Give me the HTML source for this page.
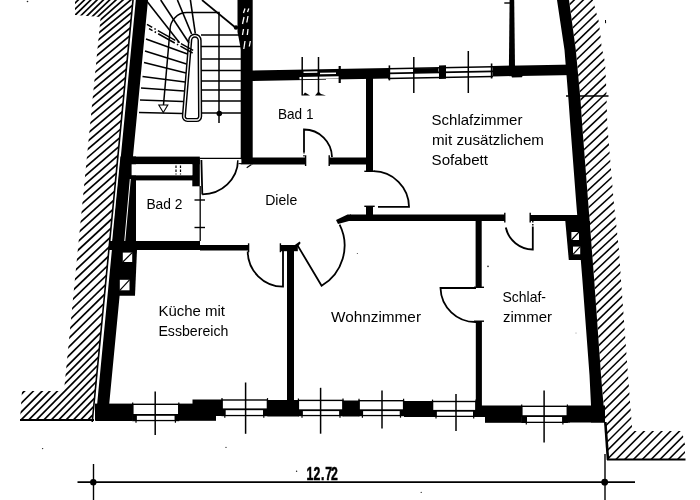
<!DOCTYPE html>
<html><head><meta charset="utf-8"><title>Grundriss</title>
<style>html,body{margin:0;padding:0;background:#fff;overflow:hidden}svg{display:block;filter:grayscale(1) blur(0.35px)}</style>
</head><body>
<svg width="700" height="500" viewBox="0 0 700 500">
<rect width="700" height="500" fill="#fff"/>
<polygon points="135.80,0.00 148.00,0.00 109.22,404.00 132.50,404.00 132.50,421.00 95.54,421.00" fill="#000" />
<line x1="133.00" y1="0.00" x2="92.24" y2="422.00" stroke="#000" stroke-width="1.60" />
<clipPath id="hl"><polygon points="75.00,0.00 133.00,0.00 92.44,420.00 20.00,420.00 22.00,391.00 63.98,391.00 100.63,17.00 75.00,15.00"/></clipPath>
<g clip-path="url(#hl)" stroke="#000" stroke-width="1.70">
<line x1="5.66" y1="46.40" x2="245.66" y2="-186.40"/>
<line x1="5.01" y1="53.00" x2="245.01" y2="-179.80"/>
<line x1="4.37" y1="59.60" x2="244.37" y2="-173.20"/>
<line x1="3.72" y1="66.22" x2="243.72" y2="-166.58"/>
<line x1="3.07" y1="72.87" x2="243.07" y2="-159.93"/>
<line x1="2.41" y1="79.56" x2="242.41" y2="-153.24"/>
<line x1="1.75" y1="86.28" x2="241.75" y2="-146.52"/>
<line x1="1.09" y1="93.04" x2="241.09" y2="-139.76"/>
<line x1="0.42" y1="99.84" x2="240.42" y2="-132.96"/>
<line x1="-0.25" y1="105.16" x2="239.75" y2="-124.62"/>
<line x1="-0.92" y1="107.45" x2="239.08" y2="-113.17"/>
<line x1="-1.60" y1="109.75" x2="238.40" y2="-101.67"/>
<line x1="-2.28" y1="112.06" x2="237.72" y2="-90.10"/>
<line x1="-2.96" y1="116.47" x2="237.04" y2="-80.55"/>
<line x1="-3.66" y1="123.87" x2="236.34" y2="-73.65"/>
<line x1="-4.40" y1="131.67" x2="235.60" y2="-66.39"/>
<line x1="-5.17" y1="139.87" x2="234.83" y2="-58.75"/>
<line x1="-5.99" y1="148.46" x2="234.01" y2="-50.74"/>
<line x1="-6.81" y1="157.10" x2="233.19" y2="-42.70"/>
<line x1="-7.63" y1="165.77" x2="232.37" y2="-34.62"/>
<line x1="-8.45" y1="174.49" x2="231.55" y2="-26.51"/>
<line x1="-9.28" y1="183.24" x2="230.72" y2="-18.36"/>
<line x1="-10.11" y1="192.03" x2="229.89" y2="-10.17"/>
<line x1="-10.95" y1="200.86" x2="229.05" y2="-1.95"/>
<line x1="-11.79" y1="209.73" x2="228.21" y2="6.31"/>
<line x1="-12.63" y1="218.64" x2="227.37" y2="14.61"/>
<line x1="-13.48" y1="227.58" x2="226.52" y2="22.94"/>
<line x1="-14.33" y1="236.57" x2="225.67" y2="31.31"/>
<line x1="-15.18" y1="245.61" x2="224.82" y2="39.73"/>
<line x1="-16.04" y1="254.81" x2="223.96" y2="48.13"/>
<line x1="-16.91" y1="264.52" x2="223.09" y2="56.14"/>
<line x1="-17.79" y1="274.30" x2="222.21" y2="64.21"/>
<line x1="-18.67" y1="284.16" x2="221.33" y2="72.34"/>
<line x1="-19.56" y1="294.09" x2="220.44" y2="80.53"/>
<line x1="-20.45" y1="304.10" x2="219.55" y2="88.78"/>
<line x1="-21.35" y1="314.18" x2="218.65" y2="97.10"/>
<line x1="-22.26" y1="324.34" x2="217.74" y2="105.48"/>
<line x1="-23.18" y1="334.57" x2="216.82" y2="113.92"/>
<line x1="-24.10" y1="344.88" x2="215.90" y2="122.42"/>
<line x1="-25.03" y1="355.27" x2="214.97" y2="130.99"/>
<line x1="-25.96" y1="365.73" x2="214.04" y2="139.62"/>
<line x1="-26.90" y1="376.25" x2="213.10" y2="148.30"/>
<line x1="-27.84" y1="386.78" x2="212.16" y2="156.98"/>
<line x1="-28.78" y1="397.30" x2="211.22" y2="165.65"/>
<line x1="-29.73" y1="407.82" x2="210.27" y2="174.33"/>
<line x1="-30.67" y1="418.31" x2="209.33" y2="183.04"/>
<line x1="-31.61" y1="428.39" x2="208.39" y2="192.16"/>
<line x1="-32.55" y1="438.47" x2="207.45" y2="201.28"/>
<line x1="-33.49" y1="448.55" x2="206.51" y2="210.40"/>
<line x1="-34.43" y1="458.63" x2="205.57" y2="219.52"/>
<line x1="-35.37" y1="468.71" x2="204.63" y2="228.64"/>
<line x1="-36.18" y1="477.42" x2="203.82" y2="236.53"/>
<line x1="-37.00" y1="486.14" x2="203.00" y2="244.41"/>
<line x1="-37.81" y1="494.85" x2="202.19" y2="252.30"/>
<line x1="-38.62" y1="503.57" x2="201.38" y2="260.18"/>
<line x1="-39.44" y1="512.28" x2="200.56" y2="268.07"/>
<line x1="-40.25" y1="521.00" x2="199.75" y2="275.95"/>
<line x1="-41.06" y1="529.71" x2="198.94" y2="283.84"/>
<line x1="-41.88" y1="538.43" x2="198.12" y2="291.72"/>
<line x1="-42.69" y1="546.98" x2="197.31" y2="299.78"/>
<line x1="-43.50" y1="555.28" x2="196.50" y2="308.08"/>
<line x1="-44.32" y1="563.58" x2="195.68" y2="316.38"/>
</g>
<line x1="20.00" y1="420.00" x2="94.00" y2="420.00" stroke="#000" stroke-width="2.00" />
<polygon points="557.00,0.00 564.50,50.00 568.50,100.00 570.30,125.00 576.00,200.00 582.40,280.00 589.50,375.00 591.00,405.50 591.00,422.50 605.00,422.50 601.00,375.00 594.20,280.00 588.00,200.00 582.20,125.00 580.50,100.00 575.80,50.00 569.00,0.00" fill="#000" />
<path d="M605.3,422 L608,460" stroke="#000" stroke-width="2.60" fill="none" />
<clipPath id="hr"><polygon points="569.00,0.00 593.00,0.00 596.40,13.00 598.50,20.00 600.80,38.00 601.60,47.00 605.00,62.00 606.30,88.00 607.30,125.00 613.60,200.00 619.00,250.00 621.00,280.00 628.00,375.00 632.30,431.00 682.00,431.00 685.00,445.00 685.00,460.00 607.50,460.00 605.30,422.00 601.00,375.00 594.20,280.00 588.00,200.00 582.20,125.00 580.50,100.00 575.80,50.00"/></clipPath>
<g clip-path="url(#hr)" stroke="#000" stroke-width="1.55">
<line x1="560.00" y1="5.00" x2="700.00" y2="-130.80"/>
<line x1="560.00" y1="13.80" x2="700.00" y2="-122.00"/>
<line x1="560.00" y1="22.60" x2="700.00" y2="-113.20"/>
<line x1="560.00" y1="31.40" x2="700.00" y2="-104.40"/>
<line x1="560.00" y1="40.20" x2="700.00" y2="-95.54"/>
<line x1="560.00" y1="49.00" x2="700.00" y2="-86.49"/>
<line x1="560.00" y1="57.80" x2="700.00" y2="-77.45"/>
<line x1="560.00" y1="66.60" x2="700.00" y2="-68.40"/>
<line x1="560.00" y1="75.40" x2="700.00" y2="-59.35"/>
<line x1="560.00" y1="84.20" x2="700.00" y2="-50.31"/>
<line x1="560.00" y1="93.00" x2="700.00" y2="-41.26"/>
<line x1="560.00" y1="101.80" x2="700.00" y2="-32.21"/>
<line x1="560.00" y1="110.60" x2="700.00" y2="-23.17"/>
<line x1="560.00" y1="119.40" x2="700.00" y2="-14.12"/>
<line x1="560.00" y1="128.20" x2="700.00" y2="-5.07"/>
<line x1="560.00" y1="137.00" x2="700.00" y2="3.97"/>
<line x1="560.00" y1="145.80" x2="700.00" y2="13.16"/>
<line x1="560.00" y1="154.60" x2="700.00" y2="22.37"/>
<line x1="560.00" y1="163.40" x2="700.00" y2="31.59"/>
<line x1="560.00" y1="172.20" x2="700.00" y2="40.80"/>
<line x1="560.00" y1="181.00" x2="700.00" y2="50.01"/>
<line x1="560.00" y1="189.80" x2="700.00" y2="59.22"/>
<line x1="560.00" y1="198.60" x2="700.00" y2="68.43"/>
<line x1="560.00" y1="207.40" x2="700.00" y2="77.64"/>
<line x1="560.00" y1="216.20" x2="700.00" y2="86.85"/>
<line x1="560.00" y1="225.00" x2="700.00" y2="96.06"/>
<line x1="560.00" y1="233.80" x2="700.00" y2="105.27"/>
<line x1="560.00" y1="242.60" x2="700.00" y2="114.48"/>
<line x1="560.00" y1="251.40" x2="700.00" y2="123.69"/>
<line x1="560.00" y1="260.20" x2="700.00" y2="132.57"/>
<line x1="560.00" y1="269.00" x2="700.00" y2="140.45"/>
<line x1="560.00" y1="277.80" x2="700.00" y2="148.32"/>
<line x1="560.00" y1="286.60" x2="700.00" y2="156.20"/>
<line x1="560.00" y1="295.40" x2="700.00" y2="164.07"/>
<line x1="560.00" y1="304.20" x2="700.00" y2="171.95"/>
<line x1="560.00" y1="313.00" x2="700.00" y2="179.83"/>
<line x1="560.00" y1="321.80" x2="700.00" y2="187.70"/>
<line x1="560.00" y1="330.60" x2="700.00" y2="195.58"/>
<line x1="560.00" y1="339.40" x2="700.00" y2="203.56"/>
<line x1="560.00" y1="348.20" x2="700.00" y2="212.09"/>
<line x1="560.00" y1="357.00" x2="700.00" y2="220.63"/>
<line x1="560.00" y1="365.80" x2="700.00" y2="229.17"/>
<line x1="560.00" y1="374.60" x2="700.00" y2="237.70"/>
<line x1="560.00" y1="383.40" x2="700.00" y2="246.24"/>
<line x1="560.00" y1="392.20" x2="700.00" y2="254.77"/>
<line x1="560.00" y1="401.00" x2="700.00" y2="263.31"/>
<line x1="560.00" y1="409.80" x2="700.00" y2="271.85"/>
<line x1="560.00" y1="418.60" x2="700.00" y2="280.38"/>
<line x1="560.00" y1="427.40" x2="700.00" y2="288.92"/>
<line x1="560.00" y1="436.20" x2="700.00" y2="297.45"/>
<line x1="560.00" y1="445.00" x2="700.00" y2="305.99"/>
<line x1="560.00" y1="453.80" x2="700.00" y2="314.53"/>
<line x1="560.00" y1="462.60" x2="700.00" y2="323.06"/>
<line x1="560.00" y1="471.40" x2="700.00" y2="331.60"/>
<line x1="560.00" y1="480.20" x2="700.00" y2="340.20"/>
<line x1="560.00" y1="489.00" x2="700.00" y2="349.00"/>
<line x1="560.00" y1="497.80" x2="700.00" y2="357.80"/>
<line x1="560.00" y1="506.60" x2="700.00" y2="366.60"/>
<line x1="560.00" y1="515.40" x2="700.00" y2="375.40"/>
<line x1="560.00" y1="524.20" x2="700.00" y2="384.20"/>
<line x1="560.00" y1="533.00" x2="700.00" y2="393.00"/>
<line x1="560.00" y1="541.80" x2="700.00" y2="401.80"/>
<line x1="560.00" y1="550.60" x2="700.00" y2="410.60"/>
<line x1="560.00" y1="559.40" x2="700.00" y2="419.40"/>
<line x1="560.00" y1="568.20" x2="700.00" y2="428.20"/>
<line x1="560.00" y1="577.00" x2="700.00" y2="437.00"/>
<line x1="560.00" y1="585.80" x2="700.00" y2="445.80"/>
<line x1="560.00" y1="594.60" x2="700.00" y2="454.60"/>
<line x1="560.00" y1="603.40" x2="700.00" y2="463.40"/>
<line x1="560.00" y1="612.20" x2="700.00" y2="472.20"/>
<line x1="560.00" y1="621.00" x2="700.00" y2="481.00"/>
<line x1="560.00" y1="629.80" x2="700.00" y2="489.80"/>
<line x1="560.00" y1="638.60" x2="700.00" y2="498.60"/>
<line x1="560.00" y1="647.40" x2="700.00" y2="507.40"/>
<line x1="560.00" y1="656.20" x2="700.00" y2="516.20"/>
<line x1="560.00" y1="665.00" x2="700.00" y2="525.00"/>
<line x1="560.00" y1="673.80" x2="700.00" y2="533.80"/>
<line x1="560.00" y1="682.60" x2="700.00" y2="542.60"/>
<line x1="560.00" y1="691.40" x2="700.00" y2="551.40"/>
</g>
<line x1="607.00" y1="459.50" x2="685.50" y2="459.50" stroke="#000" stroke-width="2.20" />
<line x1="566.00" y1="96.00" x2="608.50" y2="96.00" stroke="#000" stroke-width="1.70" />
<rect x="240.70" y="0.00" width="12.00" height="164.40" fill="#000"/>
<polygon points="237.50,0.00 241.00,0.00 241.00,50.00 237.50,32.00" fill="#000" />
<line x1="243.50" y1="13.00" x2="245.00" y2="8.50" stroke="#000" stroke-width="1.30" style="stroke:#fff"/>
<line x1="247.50" y1="12.00" x2="248.80" y2="8.50" stroke="#000" stroke-width="1.30" style="stroke:#fff"/>
<line x1="242.50" y1="24.00" x2="244.00" y2="17.00" stroke="#000" stroke-width="1.30" style="stroke:#fff"/>
<line x1="246.80" y1="22.50" x2="248.00" y2="16.00" stroke="#000" stroke-width="1.30" style="stroke:#fff"/>
<line x1="242.50" y1="35.00" x2="243.50" y2="29.00" stroke="#000" stroke-width="1.30" style="stroke:#fff"/>
<line x1="247.30" y1="35.00" x2="248.00" y2="29.00" stroke="#000" stroke-width="1.30" style="stroke:#fff"/>
<line x1="243.80" y1="49.00" x2="245.00" y2="41.00" stroke="#000" stroke-width="1.30" style="stroke:#fff"/>
<line x1="249.30" y1="46.50" x2="250.30" y2="41.00" stroke="#000" stroke-width="1.30" style="stroke:#fff"/>
<polygon points="252.00,70.50 389.00,67.91 389.00,78.41 252.00,81.00" fill="#000" />
<polygon points="492.50,65.95 575.00,64.40 575.00,74.90 492.50,76.45" fill="#000" />
<line x1="303.50" y1="72.23" x2="317.50" y2="71.96" stroke="#000" stroke-width="1.60" style="stroke:#fff"/>
<line x1="320.00" y1="73.61" x2="336.00" y2="73.31" stroke="#000" stroke-width="1.50" style="stroke:#fff"/>
<line x1="299.50" y1="78.20" x2="339.00" y2="77.46" stroke="#000" stroke-width="2.20" style="stroke:#fff"/>
<line x1="326.00" y1="79.70" x2="339.00" y2="79.46" stroke="#000" stroke-width="1.50" style="stroke:#fff"/>
<line x1="302.20" y1="57.00" x2="302.20" y2="95.50" stroke="#000" stroke-width="1.50" />
<line x1="318.50" y1="57.00" x2="318.50" y2="94.00" stroke="#000" stroke-width="1.50" />
<line x1="339.70" y1="66.00" x2="339.70" y2="83.00" stroke="#000" stroke-width="2.20" />
<polygon points="302.50,95.50 305.00,92.50 310.00,95.50" fill="#000" />
<polygon points="315.00,95.50 318.50,91.50 321.00,94.00 326.00,95.50" fill="#000" />
<line x1="388.00" y1="68.63" x2="493.00" y2="66.65" stroke="#000" stroke-width="1.50" />
<line x1="388.00" y1="73.33" x2="493.00" y2="71.35" stroke="#000" stroke-width="1.70" />
<line x1="388.00" y1="78.53" x2="493.00" y2="76.55" stroke="#000" stroke-width="1.50" />
<line x1="414.00" y1="70.64" x2="438.50" y2="70.18" stroke="#000" stroke-width="4.40" />
<line x1="389.40" y1="65.41" x2="389.40" y2="80.41" stroke="#000" stroke-width="1.60" />
<line x1="491.60" y1="63.48" x2="491.60" y2="78.48" stroke="#000" stroke-width="1.60" />
<polygon points="439.00,65.47 446.00,65.33 446.00,78.83 439.00,78.97" fill="#000" />
<line x1="413.80" y1="57.00" x2="413.80" y2="93.00" stroke="#000" stroke-width="1.50" />
<line x1="468.30" y1="51.00" x2="468.30" y2="93.00" stroke="#000" stroke-width="1.50" />
<polygon points="509.60,0.00 514.20,0.00 515.00,67.00 508.90,67.00" fill="#000" />
<line x1="504.30" y1="3.00" x2="510.00" y2="3.00" stroke="#000" stroke-width="1.40" />
<polygon points="511.00,75.00 523.00,74.70 522.00,77.30 512.00,77.60" fill="#000" />
<rect x="366.00" y="78.00" width="7.00" height="93.00" fill="#000"/>
<rect x="366.00" y="206.00" width="7.00" height="10.00" fill="#000"/>
<rect x="252.00" y="157.50" width="54.00" height="7.00" fill="#000"/>
<rect x="329.00" y="157.50" width="44.00" height="7.00" fill="#000"/>
<rect x="131.00" y="156.60" width="68.80" height="7.70" fill="#000"/>
<rect x="192.30" y="157.50" width="7.50" height="28.80" fill="#000"/>
<rect x="130.00" y="175.20" width="63.00" height="5.20" fill="#000"/>
<polygon points="120.45,156.60 136.00,156.60 136.00,250.00 111.30,250.00" fill="#000" />
<line x1="130.30" y1="179.00" x2="124.60" y2="243.00" stroke="#000" stroke-width="1.00" style="stroke:#fff"/>
<rect x="131.60" y="164.30" width="60.70" height="10.90" fill="#fff"/>
<line x1="176.00" y1="165.50" x2="176.00" y2="174.50" stroke="#000" stroke-width="1.20" stroke-dasharray="2.5 1.5"/>
<line x1="180.50" y1="165.50" x2="180.50" y2="174.50" stroke="#000" stroke-width="1.20" stroke-dasharray="2.5 1.5"/>
<rect x="109.00" y="241.00" width="91.00" height="9.00" fill="#000"/>
<rect x="200.00" y="245.00" width="49.00" height="5.50" fill="#000"/>
<polygon points="113.30,250.00 137.00,250.00 135.00,295.80 108.79,295.80" fill="#000" />
<rect x="122.80" y="252.60" width="9.40" height="9.40" fill="#fff"/>
<line x1="122.80" y1="262.00" x2="132.20" y2="252.60" stroke="#000" stroke-width="1.20" />
<rect x="119.80" y="279.80" width="9.70" height="10.50" fill="#fff"/>
<line x1="119.80" y1="290.30" x2="129.50" y2="279.80" stroke="#000" stroke-width="1.20" />
<rect x="287.00" y="246.00" width="7.00" height="155.00" fill="#000"/>
<rect x="280.00" y="245.00" width="17.80" height="6.20" fill="#000"/>
<polygon points="294.50,245.20 299.60,241.60 300.60,243.00 297.80,247.00" fill="#000" />
<rect x="350.00" y="214.50" width="155.00" height="6.50" fill="#000"/>
<polygon points="347.50,214.50 336.00,220.00 338.00,224.00 349.00,221.00 351.00,221.00 351.00,214.50" fill="#000" />
<rect x="530.00" y="215.00" width="50.00" height="6.00" fill="#000"/>
<rect x="475.60" y="221.00" width="6.10" height="66.50" fill="#000"/>
<rect x="475.80" y="321.00" width="6.10" height="85.00" fill="#000"/>
<polygon points="565.30,221.00 590.00,221.00 590.00,260.00 568.80,260.00" fill="#000" />
<rect x="571.40" y="232.00" width="7.60" height="8.00" fill="#fff"/>
<line x1="571.40" y1="240.00" x2="579.00" y2="232.00" stroke="#000" stroke-width="1.20" />
<rect x="573.00" y="246.60" width="7.20" height="7.70" fill="#fff"/>
<line x1="573.00" y1="254.30" x2="580.20" y2="246.60" stroke="#000" stroke-width="1.20" />
<rect x="95.00" y="403.60" width="37.70" height="17.00" fill="#000"/>
<rect x="178.80" y="403.60" width="37.20" height="17.20" fill="#000"/>
<rect x="192.50" y="399.50" width="30.00" height="16.50" fill="#000"/>
<rect x="267.50" y="400.00" width="31.50" height="16.50" fill="#000"/>
<rect x="342.50" y="400.50" width="17.00" height="16.00" fill="#000"/>
<rect x="404.00" y="401.00" width="28.50" height="16.00" fill="#000"/>
<rect x="476.00" y="405.50" width="45.70" height="11.50" fill="#000"/>
<rect x="485.00" y="416.00" width="36.70" height="6.80" fill="#000"/>
<rect x="482.00" y="401.00" width="0.00" height="4.00" fill="#000"/>
<rect x="567.50" y="405.50" width="37.50" height="17.00" fill="#000"/>
<rect x="563.00" y="415.00" width="7.00" height="7.50" fill="#000"/>
<rect x="132.20" y="403.60" width="47.10" height="17.60" fill="#000"/>
<rect x="133.40" y="405.00" width="44.70" height="9.00" fill="#fff"/>
<rect x="136.70" y="415.80" width="38.00" height="4.10" fill="#fff"/>
<line x1="132.70" y1="402.40" x2="132.70" y2="414.70" stroke="#000" stroke-width="1.20" />
<line x1="178.80" y1="402.40" x2="178.80" y2="414.70" stroke="#000" stroke-width="1.20" />
<line x1="136.00" y1="414.70" x2="136.00" y2="422.70" stroke="#000" stroke-width="1.20" />
<line x1="175.40" y1="414.70" x2="175.40" y2="422.70" stroke="#000" stroke-width="1.20" />
<line x1="155.20" y1="391.50" x2="155.20" y2="435.00" stroke="#000" stroke-width="1.50" />
<rect x="221.50" y="399.30" width="46.50" height="16.90" fill="#000"/>
<rect x="222.70" y="400.70" width="44.10" height="7.70" fill="#fff"/>
<rect x="225.50" y="410.20" width="37.60" height="4.70" fill="#fff"/>
<line x1="222.00" y1="398.10" x2="222.00" y2="409.10" stroke="#000" stroke-width="1.20" />
<line x1="267.50" y1="398.10" x2="267.50" y2="409.10" stroke="#000" stroke-width="1.20" />
<line x1="224.80" y1="409.10" x2="224.80" y2="417.70" stroke="#000" stroke-width="1.20" />
<line x1="263.80" y1="409.10" x2="263.80" y2="417.70" stroke="#000" stroke-width="1.20" />
<line x1="245.60" y1="382.50" x2="245.60" y2="433.80" stroke="#000" stroke-width="1.50" />
<rect x="297.90" y="399.70" width="45.60" height="16.50" fill="#000"/>
<rect x="299.10" y="401.10" width="43.20" height="8.20" fill="#fff"/>
<rect x="302.70" y="411.10" width="36.60" height="3.80" fill="#fff"/>
<line x1="298.40" y1="398.50" x2="298.40" y2="410.00" stroke="#000" stroke-width="1.20" />
<line x1="343.00" y1="398.50" x2="343.00" y2="410.00" stroke="#000" stroke-width="1.20" />
<line x1="302.00" y1="410.00" x2="302.00" y2="417.70" stroke="#000" stroke-width="1.20" />
<line x1="340.00" y1="410.00" x2="340.00" y2="417.70" stroke="#000" stroke-width="1.20" />
<line x1="320.60" y1="387.80" x2="320.60" y2="433.70" stroke="#000" stroke-width="1.50" />
<rect x="358.50" y="400.00" width="45.60" height="16.20" fill="#000"/>
<rect x="359.70" y="401.40" width="43.20" height="7.90" fill="#fff"/>
<rect x="363.10" y="411.10" width="36.70" height="3.80" fill="#fff"/>
<line x1="359.00" y1="398.80" x2="359.00" y2="410.00" stroke="#000" stroke-width="1.20" />
<line x1="403.60" y1="398.80" x2="403.60" y2="410.00" stroke="#000" stroke-width="1.20" />
<line x1="362.40" y1="410.00" x2="362.40" y2="417.70" stroke="#000" stroke-width="1.20" />
<line x1="400.50" y1="410.00" x2="400.50" y2="417.70" stroke="#000" stroke-width="1.20" />
<line x1="382.00" y1="390.60" x2="382.00" y2="428.60" stroke="#000" stroke-width="1.50" />
<rect x="432.00" y="400.80" width="44.50" height="16.20" fill="#000"/>
<rect x="433.20" y="402.20" width="42.10" height="7.70" fill="#fff"/>
<rect x="436.70" y="411.70" width="36.30" height="4.00" fill="#fff"/>
<line x1="432.50" y1="399.60" x2="432.50" y2="410.60" stroke="#000" stroke-width="1.20" />
<line x1="476.00" y1="399.60" x2="476.00" y2="410.60" stroke="#000" stroke-width="1.20" />
<line x1="436.00" y1="410.60" x2="436.00" y2="418.50" stroke="#000" stroke-width="1.20" />
<line x1="473.70" y1="410.60" x2="473.70" y2="418.50" stroke="#000" stroke-width="1.20" />
<line x1="456.00" y1="394.00" x2="456.00" y2="431.00" stroke="#000" stroke-width="1.50" />
<rect x="521.20" y="405.60" width="46.70" height="17.40" fill="#000"/>
<rect x="522.40" y="407.00" width="44.30" height="8.20" fill="#fff"/>
<rect x="527.00" y="417.00" width="35.20" height="4.70" fill="#fff"/>
<line x1="521.70" y1="404.40" x2="521.70" y2="415.90" stroke="#000" stroke-width="1.20" />
<line x1="567.40" y1="404.40" x2="567.40" y2="415.90" stroke="#000" stroke-width="1.20" />
<line x1="526.30" y1="415.90" x2="526.30" y2="424.50" stroke="#000" stroke-width="1.20" />
<line x1="562.90" y1="415.90" x2="562.90" y2="424.50" stroke="#000" stroke-width="1.20" />
<line x1="544.10" y1="390.50" x2="544.10" y2="442.50" stroke="#000" stroke-width="1.50" />
<line x1="77.50" y1="482.10" x2="635.00" y2="482.10" stroke="#000" stroke-width="1.60" />
<line x1="93.50" y1="464.00" x2="93.50" y2="500.00" stroke="#000" stroke-width="1.40" />
<line x1="605.00" y1="454.00" x2="605.00" y2="500.00" stroke="#000" stroke-width="1.40" />
<circle cx="93.3" cy="482.2" r="3.2"/>
<circle cx="604.7" cy="482.2" r="3.4"/>
<line x1="305.60" y1="155.30" x2="305.60" y2="166.00" stroke="#000" stroke-width="1.40" />
<line x1="329.20" y1="155.30" x2="329.20" y2="166.00" stroke="#000" stroke-width="1.40" />
<line x1="364.30" y1="171.30" x2="374.70" y2="171.30" stroke="#000" stroke-width="1.40" />
<line x1="364.30" y1="206.30" x2="374.70" y2="206.30" stroke="#000" stroke-width="1.40" />
<line x1="248.60" y1="243.30" x2="248.60" y2="252.20" stroke="#000" stroke-width="1.40" />
<line x1="280.40" y1="243.30" x2="280.40" y2="252.20" stroke="#000" stroke-width="1.40" />
<line x1="504.80" y1="212.80" x2="504.80" y2="222.60" stroke="#000" stroke-width="1.40" />
<line x1="530.20" y1="212.80" x2="530.20" y2="222.60" stroke="#000" stroke-width="1.40" />
<line x1="474.00" y1="287.30" x2="484.00" y2="287.30" stroke="#000" stroke-width="1.40" />
<line x1="474.00" y1="321.20" x2="484.00" y2="321.20" stroke="#000" stroke-width="1.40" />
<path d="M201.4,160 L202.3,194.5 M238,160.3 A36,34.5 0 0 1 202.2,194.3" stroke="#000" stroke-width="1.80" fill="none" />
<line x1="200.00" y1="158.30" x2="241.00" y2="158.30" stroke="#000" stroke-width="1.30" />
<rect x="238.60" y="159.20" width="2.80" height="4.00" fill="#fff"/>
<line x1="238.60" y1="163.60" x2="241.40" y2="163.60" stroke="#000" stroke-width="1.00" />
<line x1="246.70" y1="167.70" x2="251.50" y2="164.60" stroke="#000" stroke-width="1.20" />
<line x1="200.20" y1="186.00" x2="200.20" y2="241.00" stroke="#000" stroke-width="1.30" />
<line x1="194.50" y1="200.00" x2="205.00" y2="200.00" stroke="#000" stroke-width="1.40" />
<line x1="194.50" y1="227.50" x2="205.00" y2="227.50" stroke="#000" stroke-width="1.40" />
<path d="M304,152 L304,129.5 A28,28 0 0 1 332,157" stroke="#000" stroke-width="1.80" fill="none" />
<line x1="304.00" y1="152.00" x2="304.00" y2="157.00" stroke="#000" stroke-width="1.30" stroke-dasharray="1.5 1.5"/>
<path d="M378,206.8 L409,206.8 A36,36 0 0 0 373.5,171.2" stroke="#000" stroke-width="1.80" fill="none" />
<path d="M283,251 L283,286.6 A35.5,35.5 0 0 1 247.7,251.5" stroke="#000" stroke-width="1.80" fill="none" />
<path d="M297.7,245.6 L321.6,285.8 A46.7,46.7 0 0 0 339.6,224.6" stroke="#000" stroke-width="1.80" fill="none" />
<path d="M532.8,226.5 L532.8,249.5 A28,28 0 0 1 505.8,227.5" stroke="#000" stroke-width="1.80" fill="none" />
<line x1="532.80" y1="221.00" x2="532.80" y2="226.00" stroke="#000" stroke-width="1.40" stroke-dasharray="1.5 1.5"/>
<path d="M476,288 L440.5,288 A35,35 0 0 0 476,322" stroke="#000" stroke-width="1.80" fill="none" />
<path d="M190.2,40.5 A4.7,4.9 0 0 1 199.6,40.5 L200.1,116.5 A3.5,3.5 0 0 1 196.6,120 L187.4,120 A3.5,3.5 0 0 1 183.9,116.2 Z" stroke="#000" stroke-width="4.20" fill="#fff" />
<path d="M190.2,40.5 A4.7,4.9 0 0 1 199.6,40.5 L200.1,116.5 A3.5,3.5 0 0 1 196.6,120 L187.4,120 A3.5,3.5 0 0 1 183.9,116.2 Z" stroke="#000" stroke-width="1.30" fill="none" style="stroke:#fff"/>
<line x1="201.00" y1="35.00" x2="241.00" y2="35.00" stroke="#000" stroke-width="1.60" />
<line x1="201.00" y1="46.50" x2="241.00" y2="46.50" stroke="#000" stroke-width="1.60" />
<line x1="201.00" y1="59.00" x2="241.00" y2="59.00" stroke="#000" stroke-width="1.60" />
<line x1="201.00" y1="70.50" x2="241.00" y2="70.50" stroke="#000" stroke-width="1.60" />
<line x1="201.00" y1="81.00" x2="241.00" y2="81.00" stroke="#000" stroke-width="1.60" />
<line x1="201.00" y1="90.00" x2="241.00" y2="90.00" stroke="#000" stroke-width="1.60" />
<line x1="201.00" y1="101.00" x2="241.00" y2="101.00" stroke="#000" stroke-width="1.60" />
<line x1="201.00" y1="113.00" x2="241.00" y2="113.00" stroke="#000" stroke-width="1.60" />
<line x1="146.00" y1="39.00" x2="187.50" y2="54.00" stroke="#000" stroke-width="1.60" />
<line x1="145.00" y1="51.00" x2="186.50" y2="64.00" stroke="#000" stroke-width="1.60" />
<line x1="144.00" y1="62.50" x2="186.00" y2="73.00" stroke="#000" stroke-width="1.60" />
<line x1="142.50" y1="76.50" x2="185.00" y2="82.00" stroke="#000" stroke-width="1.60" />
<line x1="141.00" y1="88.00" x2="184.00" y2="91.00" stroke="#000" stroke-width="1.60" />
<line x1="140.00" y1="100.00" x2="183.00" y2="101.50" stroke="#000" stroke-width="1.60" />
<line x1="139.00" y1="112.50" x2="182.00" y2="113.50" stroke="#000" stroke-width="1.60" />
<line x1="195.30" y1="33.50" x2="190.40" y2="0.00" stroke="#000" stroke-width="1.60" />
<line x1="191.60" y1="34.00" x2="177.40" y2="0.00" stroke="#000" stroke-width="1.60" />
<line x1="189.00" y1="43.00" x2="160.70" y2="0.00" stroke="#000" stroke-width="1.60" />
<line x1="179.50" y1="42.70" x2="146.50" y2="0.80" stroke="#000" stroke-width="1.60" />
<line x1="147.00" y1="24.40" x2="194.00" y2="50.90" stroke="#000" stroke-width="1.50" stroke-dasharray="6 2.5 1.5 2.5 20 2.5 1.5 2.5 14"/>
<line x1="149.00" y1="28.60" x2="193.50" y2="53.50" stroke="#000" stroke-width="1.50" stroke-dasharray="4 2.5 1.5 2.5 19 2.5 1.5 2.5 14"/>
<path d="M163.4,106 L170,30 A16.8,17.4 0 0 1 186.8,12.6 L219,12.6 L219,123" stroke="#000" stroke-width="1.50" fill="none" />
<polygon points="158.80,105.00 167.80,105.00 163.30,112.50" fill="#fff" stroke="#000" stroke-width="1.1"/>
<circle cx="219.3" cy="113.5" r="2.8"/>
<line x1="202.00" y1="0.00" x2="236.00" y2="28.00" stroke="#000" stroke-width="1.70" />
<circle cx="236" cy="27.5" r="2.2"/>
<line x1="605.50" y1="20.00" x2="605.60" y2="23.20" stroke="#000" stroke-width="1.00" />
<circle cx="27.5" cy="1.5" r="0.8" fill="#222"/>
<circle cx="488.0" cy="266.4" r="0.8" fill="#222"/>
<circle cx="42.6" cy="448.6" r="0.7" fill="#222"/>
<circle cx="226.0" cy="447.4" r="0.6" fill="#222"/>
<circle cx="296.6" cy="471.2" r="0.7" fill="#222"/>
<circle cx="421.2" cy="492.4" r="0.6" fill="#222"/>
<circle cx="357.3" cy="253.5" r="0.5" fill="#222"/>
<circle cx="576.0" cy="333.0" r="0.4" fill="#222"/>
<g font-family="'Liberation Sans', sans-serif" fill="#000">
<text x="431.60" y="124.60" font-size="14.50" font-weight="normal" textLength="90.80" lengthAdjust="spacingAndGlyphs" >Schlafzimmer</text>
<text x="432.00" y="144.60" font-size="14.50" font-weight="normal" textLength="112.00" lengthAdjust="spacingAndGlyphs" >mit zusätzlichem</text>
<text x="431.60" y="165.40" font-size="14.50" font-weight="normal" textLength="56.40" lengthAdjust="spacingAndGlyphs" >Sofabett</text>
<text x="278.00" y="118.70" font-size="14.50" font-weight="normal" textLength="35.50" lengthAdjust="spacingAndGlyphs" >Bad 1</text>
<text x="146.40" y="209.40" font-size="14.50" font-weight="normal" textLength="36.00" lengthAdjust="spacingAndGlyphs" >Bad 2</text>
<text x="265.20" y="205.00" font-size="14.50" font-weight="normal" textLength="32.00" lengthAdjust="spacingAndGlyphs" >Diele</text>
<text x="158.40" y="316.00" font-size="14.50" font-weight="normal" textLength="66.60" lengthAdjust="spacingAndGlyphs" >Küche mit</text>
<text x="158.40" y="336.00" font-size="14.50" font-weight="normal" textLength="70.00" lengthAdjust="spacingAndGlyphs" >Essbereich</text>
<text x="331.00" y="322.40" font-size="14.50" font-weight="normal" textLength="90.00" lengthAdjust="spacingAndGlyphs" >Wohnzimmer</text>
<text x="502.50" y="302.00" font-size="14.50" font-weight="normal" textLength="43.50" lengthAdjust="spacingAndGlyphs" >Schlaf-</text>
<text x="503.00" y="322.00" font-size="14.50" font-weight="normal" textLength="49.00" lengthAdjust="spacingAndGlyphs" >zimmer</text>
<text transform="translate(0,479.8) scale(0.7,1)" x="438.00 447.71 458.71 464.57 472.86" y="0" font-size="17.5" font-weight="bold" stroke="#000" stroke-width="0.5">12.72</text>
</g>
</svg>
</body></html>
